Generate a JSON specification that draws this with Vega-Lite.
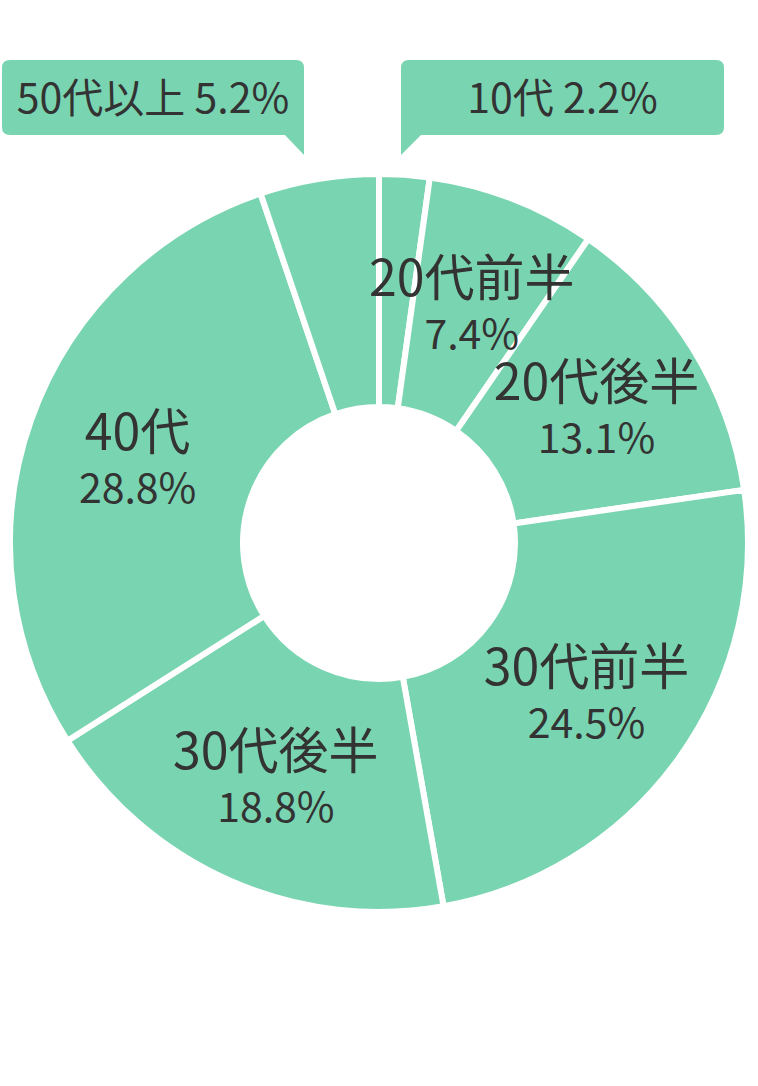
{
  "$schema": "https://vega.github.io/schema/vega-lite/v6.json",
  "width": 758,
  "height": 1086,
  "autosize": {"type": "fit", "contains": "padding"},
  "padding": 0,
  "background": "white",
  "config": {
    "view": {"stroke": null},
    "font": "Noto Sans CJK JP",
    "text": {"color": "#333333"}
  },
  "datasets": {
    "ages": [
      {"group": "10代", "share": 0.022},
      {"group": "20代前半", "share": 0.074},
      {"group": "20代後半", "share": 0.131},
      {"group": "30代前半", "share": 0.245},
      {"group": "30代後半", "share": 0.188},
      {"group": "40代", "share": 0.288},
      {"group": "50代以上", "share": 0.052}
    ],
    "callouts": [
      {"group": "50代以上", "share": 0.052},
      {"group": "10代", "share": 0.022}
    ]
  },
  "layer": [
    {
      "data": {"name": "ages"},
      "encoding": {
        "theta": {"field": "share", "type": "quantitative", "stack": true},
        "order": {"field": "group", "type": "ordinal", "sort": "ascending"}
      },
      "layer": [
        {
          "mark": {"type": "arc", "innerRadius": 136, "outerRadius": 369, "fill": "#79d5b1", "stroke": "white", "strokeWidth": 6}
        },
        {
          "mark": {"type": "text", "radius": 256, "dy": -23, "fontSize": 50},
          "encoding": {
            "text": {"field": "group", "type": "nominal"},
            "opacity": {"condition": {"test": "datum.share < 0.06", "value": 0}, "value": 1}
          }
        },
        {
          "mark": {"type": "text", "radius": 256, "dy": 33, "fontSize": 41},
          "encoding": {
            "text": {"field": "share", "type": "quantitative", "format": ".1%"},
            "opacity": {"condition": {"test": "datum.share < 0.06", "value": 0}, "value": 1}
          }
        }
      ]
    },
    {
      "data": {"name": "callouts"},
      "transform": [
        {"calculate": "datum.group + ' ' + format(datum.share, '.1%')", "as": "caption"}
      ],
      "encoding": {
        "x": {"field": "group", "type": "nominal", "axis": null, "scale": {"type": "point", "padding": 0, "domain": ["50代以上", "10代"], "range": [151, 560.5]}},
        "y": {"field": "group", "type": "nominal", "axis": null, "scale": {"type": "point", "padding": 0, "range": [97.5, 97.5]}}
      },
      "layer": [
        {
          "mark": {"type": "point", "filled": true, "opacity": 1, "size": 4, "color": "#79d5b1", "strokeWidth": 0},
          "encoding": {
            "shape": {
              "field": "group",
              "type": "nominal",
              "legend": null,
              "scale": {
                "domain": ["50代以上", "10代"],
                "range": [
                  "M-143,-37.5L143,-37.5Q151,-37.5 151,-29.5L151,57.5L132,37.5L-143,37.5Q-151,37.5 -151,29.5L-151,-29.5Q-151,-37.5 -143,-37.5Z",
                  "M-153.5,-37.5L153.5,-37.5Q161.5,-37.5 161.5,-29.5L161.5,29.5Q161.5,37.5 153.5,37.5L-141.5,37.5L-161.5,57.5L-161.5,-29.5Q-161.5,-37.5 -153.5,-37.5Z"
                ]
              }
            }
          }
        },
        {
          "mark": {"type": "text", "fontSize": 41, "dy": 3},
          "encoding": {"text": {"field": "caption", "type": "nominal"}}
        }
      ]
    }
  ]
}
